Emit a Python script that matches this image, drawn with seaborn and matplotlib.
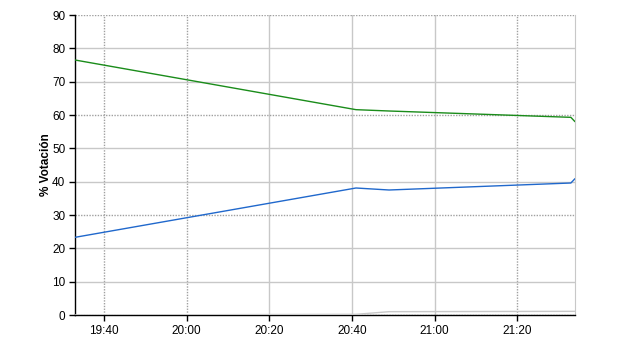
import matplotlib
matplotlib.use("Agg")
import matplotlib.pyplot as plt
import matplotlib.dates as mdates
import seaborn as sns
import pandas as pd

# Data
times = ["19:33", "20:41", "20:49", "21:33", "21:34"]
green_vals = [76.5, 61.6, 61.2, 59.3, 58.0]
blue_vals = [23.3, 38.1, 37.5, 39.6, 40.9]
gray_vals = [0.0, 0.2, 1.0, 1.1, 1.1]
series_names = ["A", "B", "C"]
y_ticks = [0, 10, 20, 30, 40, 50, 60, 70, 80, 90]
y_label = "% Votación"

t = pd.to_datetime(["2011-05-22 " + s for s in times])
df = pd.concat([
    pd.DataFrame({"t": t, "v": green_vals, "s": series_names[0]}),
    pd.DataFrame({"t": t, "v": blue_vals, "s": series_names[1]}),
    pd.DataFrame({"t": t, "v": gray_vals, "s": series_names[2]}),
])

sns.set_style("white")
plt.rcParams["font.family"] = ["Liberation Sans", "DejaVu Sans"]
plt.rcParams["text.color"] = "black"
plt.rcParams["xtick.color"] = "black"
plt.rcParams["ytick.color"] = "black"
plt.rcParams["axes.labelcolor"] = "black"

fig = plt.figure(figsize=(6.4, 3.5), dpi=100)
ax = fig.add_axes([75 / 640, 35 / 350, 500 / 640, 300 / 350])

palette = {"A": "#1a8c1a", "B": "#2068cc", "C": "#c8c8c8"}
sns.lineplot(data=df, x="t", y="v", hue="s", palette=palette, ax=ax,
             legend=False, linewidth=1.0, zorder=3)

ax.set_xlim(t[0], t[-1])
ax.set_ylim(0, 90)
ax.set_yticks(y_ticks)
ax.xaxis.set_major_locator(mdates.MinuteLocator(byminute=[0, 20, 40]))
ax.xaxis.set_major_formatter(mdates.DateFormatter("%H:%M"))

ax.grid(True, which="major", axis="both", color="#c8c8c8", linewidth=1.0, linestyle="-")
fig.canvas.draw()
for loc, gl in zip(ax.get_yticks(), ax.yaxis.get_gridlines()):
    if round(loc) % 30 == 0:
        gl.set_linestyle((0, (1, 1)))
        gl.set_color("#a0a0a0")
for lab, gl in zip(ax.get_xticklabels(), ax.xaxis.get_gridlines()):
    if lab.get_text() in ("19:40", "20:00", "21:20"):
        gl.set_linestyle((0, (1, 1)))
        gl.set_color("#a0a0a0")

ax.spines["top"].set_visible(False)
ax.spines["right"].set_color("#c8c8c8")
ax.spines["left"].set_color("black")
ax.spines["bottom"].set_color("black")
ax.spines["left"].set_linewidth(1.0)
ax.spines["bottom"].set_linewidth(1.0)

ax.tick_params(axis="both", which="major", length=4, width=1, color="black",
               labelcolor="black", labelsize=8.5, pad=3, direction="out",
               left=True, bottom=True)
ax.set_xlabel("")
ax.set_ylabel(y_label, fontsize=8.5, fontweight="bold", labelpad=0, color="black")

fig.savefig("out.png", dpi=100)
